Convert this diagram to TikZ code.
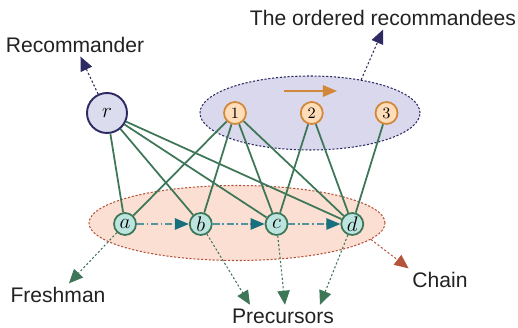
\documentclass[tikz,border=0pt]{standalone}
\usepackage{amssymb}
\usepackage{amsmath}
\usepackage{fontspec}
\setsansfont{Liberation Sans}
\usepackage{tikz}
\usetikzlibrary{positioning,shapes.geometric,arrows.meta}

\definecolor{navy}{HTML}{2E2A63}
\definecolor{upfill}{HTML}{D9D8EC}
\definecolor{rfill}{HTML}{DCDCEF}
\definecolor{peach}{HTML}{FFDDB8}
\definecolor{amber}{HTML}{D2883A}
\definecolor{leaf}{HTML}{3E7658}
\definecolor{mint}{HTML}{BCE5DF}
\definecolor{lowfill}{HTML}{FBDFD3}
\definecolor{rust}{HTML}{B5543A}
\definecolor{teal}{HTML}{17707E}
\definecolor{ink}{HTML}{222222}

\tikzset{
    tip/.style={-{Triangle[length=8pt,width=7pt]}},
    group/.style={ellipse, inner sep=0pt, line width=0.6pt, dash pattern=on 1.2pt off 1pt},
    recomm/.style={circle, draw=navy, fill=rfill, line width=1.1pt, minimum size=0.8cm, inner sep=0pt, font=\large},
    item/.style={circle, draw=amber, fill=peach, line width=1pt, minimum size=0.44cm, inner sep=0pt, font=\small},
    user/.style={circle, draw=leaf, fill=mint, line width=1pt, minimum size=0.44cm, inner sep=0pt, font=\large},
    link/.style={leaf, line width=1pt},
    tag/.style={font=\sffamily\large, text=ink, inner sep=2pt},
    pointer/.style={tip, line width=0.6pt, dash pattern=on 1.2pt off 1.2pt}
}

\begin{document}
\begin{tikzpicture}
    \useasboundingbox (0,0) rectangle (10.36,6.56);
    %%%%% THE GROUPS
    \node (upper) [group, draw=navy, fill=upfill, minimum width=4.4cm, minimum height=1.48cm] at (6.20,4.30) {};
    \node (lower) [group, draw=rust, fill=lowfill, minimum width=5.92cm, minimum height=1.5cm] at (4.74,2.10) {};
    \coordinate (ordA) at (5.68,4.74);
    \coordinate (ordB) at (6.74,4.74);
    \draw[amber, line width=1pt, -{Triangle[length=8pt,width=6.5pt]}] (ordA) -- (ordB);
    %%%%% THE NODES
    \node (r) [recomm] at (2.14,4.30) {$r$};
    \node (i1) [item] at (4.70,4.30) {1};
    \node (i2) [item, right=1.06cm of i1] {2};
    \node (i3) [item, right=1.02cm of i2] {3};
    \node (a) [user] at (2.50,2.08) {$a$};
    \node (b) [user, right=1.04cm of a] {$b$};
    \node (c) [user, right=1.04cm of b] {$c$};
    \node (d) [user, right=1.04cm of c] {$d$};
    % links between recommander, recommandees and users
    \foreach \u in {a,b,c,d} {
        \draw[link] (r) -- (\u);
        \draw[link] (i1) -- (\u);
    }
    \draw[link] (i2) -- (c);
    \draw[link] (i2) -- (d);
    \draw[link] (i3) -- (d);
    % the chain
    \foreach \s/\t in {a/b,b/c,c/d}
        \draw[teal!75, line width=0.9pt, dash pattern=on 4pt off 1.5pt on 1pt off 1.5pt,
            -{Triangle[length=8pt,width=6.5pt,color=teal]}] (\s) -- (\t);
    %%%%% THE LABELS
    \node (rec) [tag] at (1.50,5.66) {Recommander};
    \node (ordered) [tag] at (7.66,6.20) {The ordered recommandees};
    \node (fresh) [tag] at (1.16,0.66) {Freshman};
    \node (prec) [tag] at (5.66,0.24) {Precursors};
    \node (chain) [tag] at (8.80,0.96) {Chain};
    %%%% POINTERS TO THE LABELS
    \draw[pointer, navy] (r) -- (rec);
    \draw[pointer, navy] (upper.33) -- (ordered.south);
    \draw[pointer, leaf] (a) -- (fresh);
    \draw[pointer, leaf] (b) -- ([xshift=-0.66cm]prec.north);
    \draw[pointer, leaf] (c) -- ([xshift=0.04cm]prec.north);
    \draw[pointer, leaf] (d) -- ([xshift=0.74cm]prec.north);
    \draw[pointer, rust] (lower.-7) -- (chain.north west);
\end{tikzpicture}
\end{document}
